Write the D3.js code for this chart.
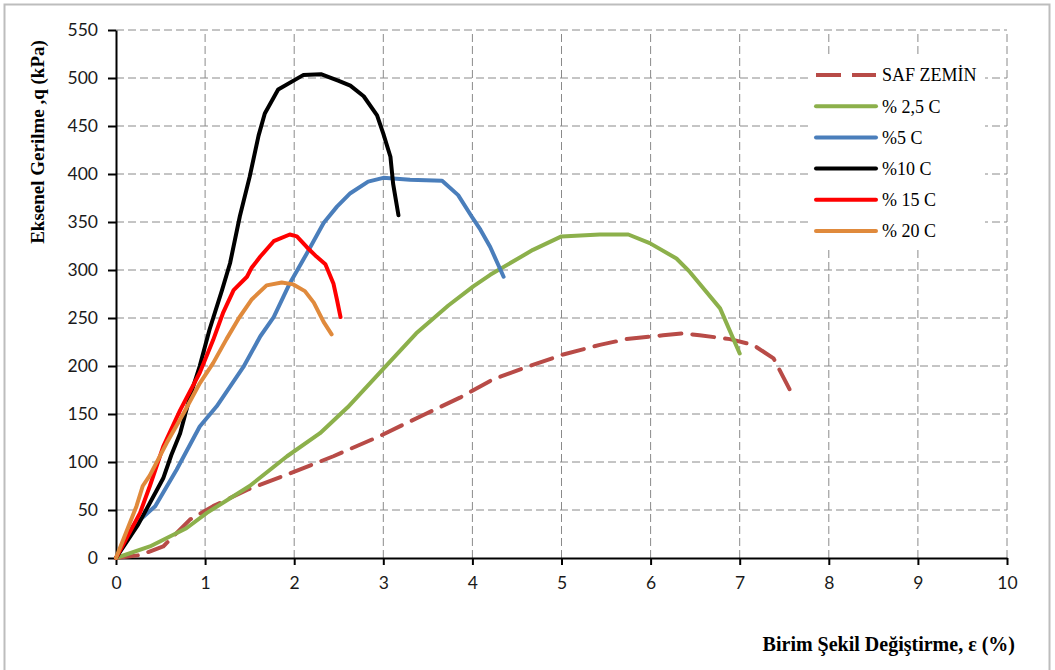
<!DOCTYPE html>
<html lang="tr">
<head>
  <meta charset="UTF-8">
  <title>Eksenel Gerilme - Birim Şekil Değiştirme</title>
  <script src="https://d3js.org/d3.v7.min.js"></script>
</head>
<style>
  body { margin: 0; background: #fff; }
  .grid line { stroke: #8a8a8a; stroke-width: 1px; stroke-dasharray: 8,4; }
  .axis path, .axis line { stroke: #000; stroke-width: 2px; }
  .axis text { font-family: Lato, "Open Sans", sans-serif; font-size: 17.5px; fill: #1a1a1a; }
  .curve { fill: none; stroke-width: 4px; stroke-linejoin: round; stroke-linecap: round; }
  .title { font-family: "Liberation Serif", "DejaVu Serif", serif; font-weight: bold; fill: #000; }
  .legend text { font-family: "Liberation Serif", "DejaVu Serif", serif; font-size: 18px; fill: #000; }
</style>
<body>
<svg id="chart" width="1055" height="670"></svg>

<script>
  // strain (%) / axial stress q (kPa)
  const safZemin = [[0,0],[0.27,3],[0.53,12],[0.83,40],[1.09,54],[1.47,71],[1.92,87],[2.44,106],[2.96,127],
    [3.45,149],[3.86,167],[4.23,186],[4.61,199],[5.02,212],[5.43,222],[5.73,228],[6.14,232],[6.37,234],
    [6.55,232],[6.89,228],[7.15,222],[7.38,208],[7.58,172]];
  const c25 = [[0,0],[0.38,12],[0.79,31],[1.02,47],[1.5,75],[1.92,106],[2.29,130],[2.6,157],[3.0,197],
    [3.37,234],[3.73,263],[4.01,283],[4.2,295],[4.68,321],[5.0,335],[5.43,337],[5.75,337],[5.99,328],
    [6.29,312],[6.44,298],[6.78,260],[7.0,213]];
  const c5 = [[0,0],[0.19,33],[0.44,54],[0.68,92],[0.94,137],[1.13,158],[1.43,199],[1.62,231],[1.77,251],
    [1.95,286],[2.14,317],[2.33,349],[2.48,366],[2.63,380],[2.83,392],[3.0,396],[3.3,394],[3.66,393],
    [3.84,378],[3.99,356],[4.09,342],[4.2,324],[4.35,293]];
  const c10 = [[0,0],[0.25,35],[0.53,83],[0.62,107],[0.72,130],[0.83,168],[0.94,200],[1.05,238],[1.19,279],
    [1.28,307],[1.39,356],[1.5,397],[1.6,440],[1.67,463],[1.82,488],[2.1,503],[2.3,504],[2.5,497],
    [2.63,492],[2.78,481],[2.93,461],[3.0,442],[3.08,418],[3.11,390],[3.17,357]];
  const c15 = [[0,0],[0.27,47],[0.38,75],[0.53,116],[0.72,154],[0.94,193],[1.09,227],[1.2,255],[1.32,279],
    [1.47,293],[1.52,302],[1.62,314],[1.77,330],[1.95,337],[2.03,335],[2.14,324],[2.25,314],[2.35,306],
    [2.44,286],[2.48,269],[2.52,251]];
  const c20 = [[0,0],[0.23,54],[0.3,75],[0.38,86],[0.57,120],[0.76,151],[0.94,182],[1.09,203],[1.24,228],
    [1.38,250],[1.52,269],[1.69,284],[1.86,287],[1.99,285],[2.12,278],[2.22,266],[2.33,246],[2.42,233]];

  const seriesNames = ["SAF ZEMİN", "% 2,5 C", "%5 C", "%10 C", "% 15 C", "% 20 C"];
  const seriesData = [safZemin, c25, c5, c10, c15, c20];
  const seriesColors = ["#b84b47", "#8cb04b", "#4a7ebb", "#000000", "#ff0000", "#e08a3c"];

  const xTicks = [0,1,2,3,4,5,6,7,8,9,10];
  const yTicks = [0,50,100,150,200,250,300,350,400,450,500,550];

  let svg = d3.select("#chart");

  // outer chart frame
  svg.append("rect")
    .attr("x", 4.5).attr("y", 4.5)
    .attr("width", 1045).attr("height", 680)
    .attr("fill", "none").attr("stroke", "#bdbdbd").attr("stroke-width", 2);

  let x = d3.scaleLinear().domain([0, 10]).range([116, 1007]);
  let y = d3.scaleLinear().domain([0, 550]).range([558, 30]);

  // dashed grid lines
  let grid = svg.append("g").attr("class", "grid");
  grid.selectAll(".gy").data(yTicks.filter(d => d > 0)).join("line")
    .attr("x1", x(0)).attr("x2", x(10))
    .attr("y1", d => y(d)).attr("y2", d => y(d));
  grid.selectAll(".gx").data(xTicks.filter(d => d > 0)).join("line")
    .attr("x1", d => x(d)).attr("x2", d => x(d))
    .attr("y1", y(0)).attr("y2", y(550));

  // axes
  svg.append("g").attr("class", "axis")
    .attr("transform", `translate(0,${y(0)})`)
    .call(d3.axisBottom(x).tickValues(xTicks).tickSize(7).tickPadding(12).tickSizeOuter(0));
  svg.append("g").attr("class", "axis")
    .attr("transform", `translate(${x(0)},0)`)
    .call(d3.axisLeft(y).tickValues(yTicks).tickSize(8).tickPadding(10).tickSizeOuter(0));

  // curves
  let line = d3.line().x(d => x(d[0])).y(d => y(d[1]));
  svg.append("g").selectAll("path")
    .data(seriesData).join("path")
    .attr("class", "curve")
    .attr("d", line)
    .attr("stroke", (d, i) => seriesColors[i])
    .attr("stroke-dasharray", (d, i) => i == 0 ? "22,11" : null)
    .attr("stroke-linecap", (d, i) => i == 0 ? "butt" : "round");

  // legend
  let legend = svg.append("g").attr("class", "legend");
  legend.append("rect")
    .attr("x", 808).attr("y", 58).attr("width", 177).attr("height", 189)
    .attr("fill", "#fff");
  let item = legend.selectAll("g").data(seriesNames).join("g")
    .attr("transform", (d, i) => `translate(816,${75 + i * 31.2})`);
  item.append("line")
    .attr("x1", 0).attr("x2", 60)
    .attr("stroke", (d, i) => seriesColors[i])
    .attr("stroke-width", 4)
    .attr("stroke-linecap", (d, i) => i == 0 ? "butt" : "round")
    .attr("stroke-dasharray", (d, i) => i == 0 ? "25,11" : null);
  item.append("text")
    .attr("x", 66).attr("dy", "0.35em")
    .text(d => d);

  // axis titles
  svg.append("text").attr("class", "title")
    .attr("transform", "translate(44,142) rotate(-90)")
    .attr("text-anchor", "middle")
    .style("font-size", "19px")
    .text("Eksenel Gerilme ,q (kPa)");
  svg.append("text").attr("class", "title")
    .attr("x", 1015).attr("y", 651)
    .attr("text-anchor", "end")
    .style("font-size", "20px")
    .text("Birim Şekil Değiştirme, ε (%)");
</script>
</body>
</html>
